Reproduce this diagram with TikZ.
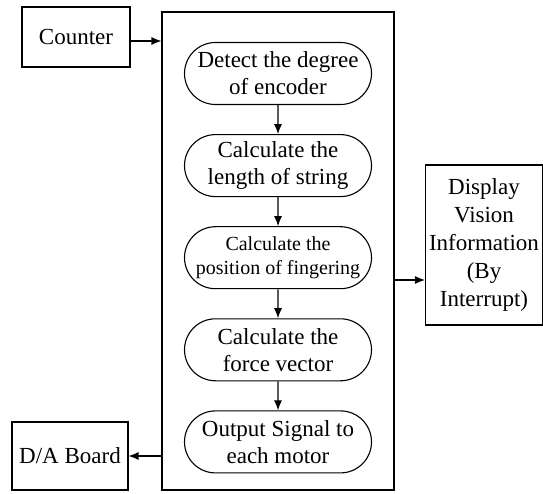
\documentclass[tikz,border=0pt]{standalone}
\usepackage{fontspec}
\setmainfont{Liberation Serif}
\usetikzlibrary{positioning,shapes.misc,arrows.meta}

\begin{document}
\begin{tikzpicture}[
			x=1pt, y=1pt, line width=1.1pt
			,>={Latex[length=10pt,width=8pt]}
			,every node/.append style={align=center, font=\fontsize{23}{27}\selectfont}
			,box/.style={draw, rectangle, inner sep=0pt}
			,proc/.style={draw, rounded rectangle, minimum width=187pt, minimum height=62pt, inner sep=0pt}
			,node distance=29pt
		]
			\useasboundingbox (0,0) rectangle (543,493);
			\node [box, minimum width=232pt, minimum height=478pt] (M) at (278,242) {};
			\node [proc] (A) at (278,419.5) {Detect the degree\\of encoder};
			\node [proc, below=of A] (B) {Calculate the\\length of string};
			\node [proc, below=of B, font=\fontsize{20}{24}\selectfont] (C) {Calculate the\\position of fingering};
			\node [proc, below=of C] (D) {Calculate the\\force vector};
			\node [proc, below=of D] (E) {Output Signal to\\each motor};
			\node [box, minimum width=108pt, minimum height=60pt] (K) at (76,456) {Counter};
			\node [box, minimum width=117pt, minimum height=160pt, font=\fontsize{23}{28}\selectfont] (V) at (484,248) {Display\\Vision\\Information\\(By\\Interrupt)};
			\node [box, minimum width=116pt, minimum height=68pt] (DA) at (70,37) {D/A Board};
			\foreach \a/\b in {A/B,B/C,C/D,D/E}
				\draw [->] (\a) -- (\b);
			\draw [->] ([yshift=-4pt]K.east) -- ([yshift=-4pt]K.east -| M.west);
			\coordinate (vin) at ([yshift=-35pt]V.west);
			\draw [->] (vin -| M.east) -- (vin);
			\draw [->] (DA.east -| M.west) -- (DA.east);
		\end{tikzpicture}
\end{document}
